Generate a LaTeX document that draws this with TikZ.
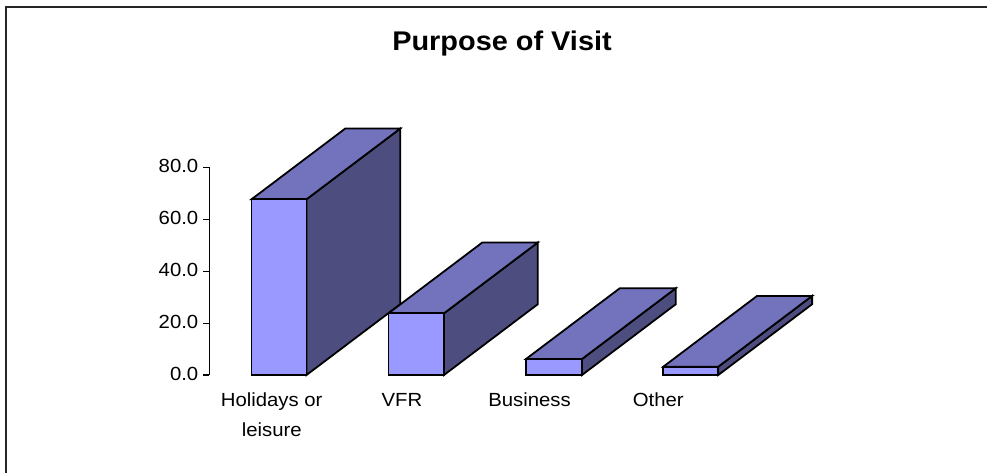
\documentclass[tikz,border=0pt]{standalone}
\usepackage{fontspec}
\setmainfont{Liberation Sans}[FakeStretch=1.07]
\definecolor{frontc}{HTML}{9999FF}
\definecolor{topc}{HTML}{7373BD}
\definecolor{sidec}{HTML}{4D4D80}
\tikzset{
  face/.style={draw=black, line width=1.8pt, line join=miter},
  ticklbl/.style={inner sep=0pt, anchor=base east, font=\fontsize{19}{22}\selectfont},
  catlbl/.style={inner sep=0pt, anchor=base, font=\fontsize{19}{22}\selectfont},
  titlelbl/.style={inner sep=0pt, anchor=base, font=\fontsize{27}{30}\selectfont\bfseries},
}
\newcommand{\mybar}[3]{% left x, top y (px), width
  \pgfmathsetmacro{\xl}{#1}
  \pgfmathsetmacro{\xr}{#1+#3}
  \pgfmathsetmacro{\yt}{#2}
  \fill[sidec] (\xr,375) -- (\xr,\yt) -- ++(93.8,-70.8) -- (\xr+93.8,375-70.8) -- cycle;
  \draw[face] (\xr,375) -- (\xr,\yt) -- ++(93.8,-70.8) -- (\xr+93.8,375-70.8) -- cycle;
  \filldraw[face, fill=topc] (\xl,\yt) -- (\xr,\yt) -- ++(93.8,-70.8) -- (\xl+93.8,\yt-70.8) -- cycle;
  \filldraw[face, fill=frontc] (\xl,375) rectangle (\xr,\yt);
}
\begin{document}
\begin{tikzpicture}[x=1pt, y=-1pt]
  \useasboundingbox (0,0) rectangle (987,472);
  \clip (0,0) rectangle (987,472);
  % outer frame (continues beyond right and bottom)
  \draw[line width=2pt, black!85] (5.5,6.7) rectangle (1000,490);
  % title
  \node[titlelbl] (title) at (502,50.7) {Purpose of Visit};
  % axis
  \coordinate (ax0) at (209.3,375);
  \coordinate (ax80) at (209.3,167.3);
  \draw[line width=1.1pt] (ax80) -- (ax0);
  \foreach \v/\yy in {0/375, 20/323.1, 40/271.2, 60/219.2, 80/167.3}{
    \draw[line width=1.1pt] (203.3,\yy) -- (209.3,\yy);
    \node[ticklbl] (t\v) at (198.5,\yy+5.5) {\v.0};
  }
  % bars
  \mybar{251.5}{199.3}{55}
  \mybar{388.5}{313.3}{55.5}
  \mybar{526.0}{359.0}{56}
  \mybar{663.3}{366.7}{55}
  % category labels
  \node[catlbl] (c1a) at (271.7,406.7) {Holidays or};
  \node[catlbl] (c1b) at (271.7,436.7) {leisure};
  \node[catlbl] (c2) at (402,406.7) {VFR};
  \node[catlbl] (c3) at (529.5,406.7) {Business};
  \node[catlbl] (c4) at (658.3,406.7) {Other};
\end{tikzpicture}
\end{document}
